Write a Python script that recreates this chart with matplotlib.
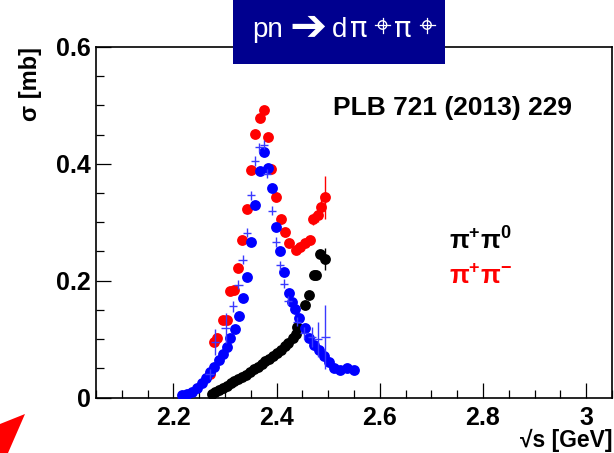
import matplotlib
matplotlib.use("Agg")
import matplotlib.pyplot as plt
from matplotlib.patches import Rectangle, Polygon, Ellipse
from matplotlib.lines import Line2D
from matplotlib.ticker import MultipleLocator, FixedLocator, FixedFormatter

plt.rcParams['font.family'] = ['Liberation Sans', 'DejaVu Sans']
plt.rcParams['mathtext.fontset'] = 'custom'
plt.rcParams['mathtext.bf'] = 'Liberation Sans:bold'
plt.rcParams['mathtext.rm'] = 'Liberation Sans'

# ---------------- data ----------------
blue_x = [2.216, 2.226, 2.236, 2.2455, 2.255, 2.2636, 2.270, 2.2778, 2.2875, 2.296,
          2.3038, 2.310, 2.320, 2.327, 2.335, 2.3426, 2.351, 2.3587, 2.367, 2.3749,
          2.3834, 2.3904, 2.399, 2.4073, 2.415, 2.4234, 2.430, 2.4364, 2.4428, 2.4558,
          2.4622, 2.472, 2.4817, 2.4914, 2.501, 2.5108, 2.5238, 2.537, 2.5496]
blue_y = [0.005, 0.0065, 0.010, 0.017, 0.025, 0.033, 0.043, 0.053, 0.064, 0.074,
          0.087, 0.102, 0.118, 0.140, 0.170, 0.207, 0.267, 0.329, 0.388, 0.421,
          0.393, 0.358, 0.292, 0.250, 0.214, 0.179, 0.164, 0.152, 0.136, 0.119,
          0.102, 0.090, 0.0815, 0.071, 0.0615, 0.050, 0.047, 0.050, 0.047]

cross_x = [2.270, 2.281, 2.301, 2.315, 2.326, 2.334, 2.3426, 2.3504, 2.3587, 2.3665,
           2.3749, 2.382, 2.391, 2.399, 2.4073, 2.4137, 2.4222, 2.4396, 2.4525, 2.4688,
           2.4805, 2.4947]
cross_y = [0.040, 0.095, 0.119, 0.156, 0.193, 0.236, 0.282, 0.346, 0.405, 0.428,
           0.433, 0.383, 0.320, 0.266, 0.226, 0.195, 0.166, 0.130, 0.110, 0.104,
           0.100, 0.104]
cross_err = [0.008, 0.023, 0.025, 0.010, 0.008, 0.008, 0.008, 0.008, 0.008, 0.008,
             0.008, 0.008, 0.008, 0.008, 0.008, 0.008, 0.008, 0.008, 0.010, 0.017,
             0.030, 0.055]

red_x = [2.270, 2.278, 2.285, 2.297, 2.303, 2.310, 2.317, 2.326, 2.333, 2.343,
         2.351, 2.359, 2.367, 2.375, 2.383, 2.390, 2.398, 2.4085, 2.4154, 2.4248,
         2.4383, 2.4461, 2.4558, 2.4642, 2.4708, 2.4797, 2.4863, 2.4947]
red_y = [0.040, 0.095, 0.102, 0.133, 0.132, 0.182, 0.184, 0.222, 0.270, 0.322,
         0.389, 0.451, 0.479, 0.492, 0.446, 0.391, 0.343, 0.305, 0.284, 0.265,
         0.253, 0.258, 0.265, 0.270, 0.305, 0.312, 0.326, 0.343]
red_err = [0.0, 0.0, 0.0, 0.0, 0.0, 0.0, 0.0, 0.0, 0.0, 0.0,
           0.0, 0.0, 0.0, 0.0, 0.0, 0.0, 0.0, 0.0, 0.0, 0.0,
           0.0, 0.0, 0.0, 0.0, 0.010, 0.012, 0.020, 0.037]

black_x = [2.274, 2.281, 2.288, 2.296, 2.303, 2.311, 2.318, 2.326, 2.333, 2.341,
           2.348, 2.356, 2.363, 2.371, 2.378, 2.386, 2.393, 2.401, 2.408, 2.416,
           2.423, 2.431, 2.437, 2.439, 2.4558, 2.4622, 2.472, 2.477, 2.484, 2.4947]
black_y = [0.006, 0.010, 0.013, 0.017, 0.020, 0.024, 0.028, 0.031, 0.035, 0.039,
           0.043, 0.048, 0.052, 0.057, 0.062, 0.066, 0.071, 0.077, 0.082, 0.088,
           0.094, 0.101, 0.108, 0.121, 0.159, 0.176, 0.210, 0.210, 0.246, 0.237]
black_err = [0.0] * 28 + [0.0, 0.019]

x_ticks = [2.2, 2.4, 2.6, 2.8, 3.0]
x_ticklabels = ['2.2', '2.4', '2.6', '2.8', '3']
y_ticks = [0.0, 0.2, 0.4, 0.6]
y_ticklabels = ['0', '0.2', '0.4', '0.6']

# ---------------- figure ----------------
W, H = 614, 453
fig = plt.figure(figsize=(W / 100, H / 100), dpi=100)
fig.patch.set_facecolor('white')


def fx(p):
    return p / W


def fy(p):
    return 1 - p / H


ax = fig.add_axes([fx(96), fy(397.5), fx(612) - fx(96), fy(47) - fy(397.5)])
ax.set_xlim(2.05, 3.05)
ax.set_ylim(0, 0.6)

ms = 7.8
ax.errorbar(black_x, black_y, yerr=black_err, fmt='o', color='black', ms=ms,
            elinewidth=1, capsize=0, mew=0, zorder=2)
ax.errorbar(red_x, red_y, yerr=red_err, fmt='o', color='#ff0000', ms=ms,
            elinewidth=1, capsize=0, mew=0, zorder=3)
ax.plot(blue_x, blue_y, 'o', color='#0000ff', ms=ms, mew=0, zorder=4)
ax.errorbar(cross_x, cross_y, xerr=0.008, yerr=cross_err, fmt='none',
            ecolor='#3a3aff', elinewidth=1.0, capsize=0, zorder=5)

ax.xaxis.set_major_locator(FixedLocator(x_ticks))
ax.xaxis.set_major_formatter(FixedFormatter(x_ticklabels))
ax.yaxis.set_major_locator(FixedLocator(y_ticks))
ax.yaxis.set_major_formatter(FixedFormatter(y_ticklabels))
ax.xaxis.set_minor_locator(MultipleLocator(0.05))
ax.yaxis.set_minor_locator(MultipleLocator(0.05))
ax.tick_params(which='both', direction='in', top=False, right=False, width=0.9)
ax.tick_params(which='major', length=10.5)
ax.tick_params(which='minor', length=5.5)
ax.tick_params(axis='x', which='major', pad=6, labelsize=18)
ax.tick_params(axis='y', which='major', pad=4, labelsize=18)
for lab in ax.get_xticklabels() + ax.get_yticklabels():
    lab.set_fontweight('bold')
for s in ax.spines.values():
    s.set_linewidth(1.2)

# axis titles
fig.text(fx(30), fy(47), 'σ [mb]', rotation=90, ha='center', va='top',
         fontsize=17, fontweight='bold')
fig.text(fx(612), fy(447.5), '√s [GeV]', ha='right', va='baseline',
         fontsize=16.5, fontweight='bold')

# annotations
fig.text(fx(333), fy(115), 'PLB 721 (2013) 229', ha='left', va='baseline',
         fontsize=19, fontweight='bold')
fig.text(fx(449), fy(250), r'$\mathbf{π^{+}π^{0}}$', ha='left', va='baseline',
         fontsize=18.5, color='black')
fig.text(fx(449), fy(284), r'$\mathbf{π^{+}π^{-}}$', ha='left', va='baseline',
         fontsize=18.5, color='#ff0000')

# title box
box = Rectangle((fx(233), fy(64)), fx(445) - fx(233), fy(0) - fy(64),
                transform=fig.transFigure, facecolor='#00008f', edgecolor='none',
                zorder=10)
fig.add_artist(box)
tkw = dict(color='white', va='baseline', ha='left', zorder=11)
fig.text(fx(252), fy(37), 'pn', fontsize=20, **tkw)
fig.text(fx(289), fy(39), '➔', fontsize=32, family='DejaVu Sans', **tkw)
fig.text(fx(332), fy(37), 'd', fontsize=20, **tkw)
fig.text(fx(350), fy(37), 'π', fontsize=21, family='DejaVu Sans', **tkw)
fig.text(fx(394), fy(37), 'π', fontsize=21, family='DejaVu Sans', **tkw)

# "position indicator" superscripts (glyph not available in installed fonts)
for cx in (382.5, 427.0):
    cy = 25.0
    circ = Ellipse((fx(cx), fy(cy)), 2 * 4.2 / W, 2 * 4.2 / H,
                   transform=fig.transFigure, facecolor='none',
                   edgecolor='white', linewidth=1.0, zorder=11)
    fig.add_artist(circ)
    fig.add_artist(Line2D([fx(cx - 7.5), fx(cx + 7.5)], [fy(cy), fy(cy)],
                          transform=fig.transFigure, color='white', lw=0.9,
                          zorder=11))
    fig.add_artist(Line2D([fx(cx), fx(cx)], [fy(cy - 7.5), fy(cy + 7.5)],
                          transform=fig.transFigure, color='white', lw=0.9,
                          zorder=11))

# red arrow decoration (bottom-left corner)
arrow = Polygon([(fx(25), fy(414)), (fx(0), fy(424)), (fx(0), fy(453)),
                 (fx(8), fy(453))], closed=True, transform=fig.transFigure,
                facecolor='#ff0000', edgecolor='none', zorder=10)
fig.add_artist(arrow)

fig.savefig('out.png', dpi=100)
